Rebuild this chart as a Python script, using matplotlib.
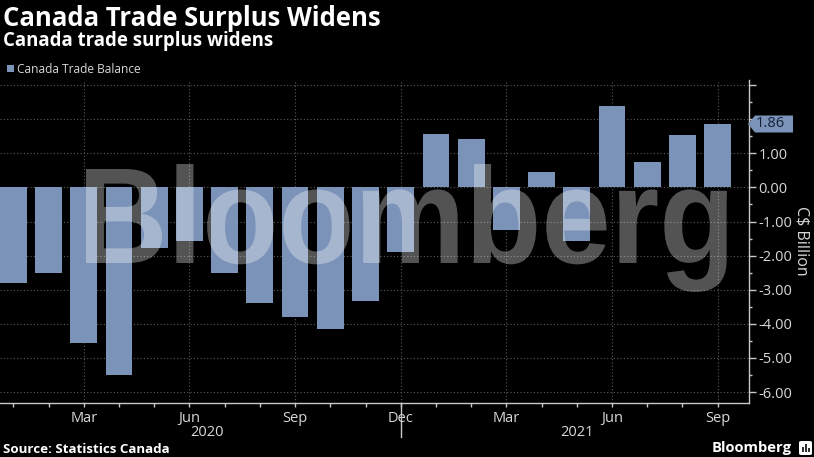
import matplotlib
matplotlib.use("Agg")
import matplotlib.pyplot as plt
import matplotlib.transforms as mtransforms
from matplotlib.patches import Polygon, Rectangle, FancyBboxPatch, PathPatch
from matplotlib.lines import Line2D
from matplotlib.textpath import TextPath
from matplotlib.font_manager import FontProperties
import numpy as np

# ---------------- data ----------------
months = ["Jan", "Feb", "Mar", "Apr", "May", "Jun", "Jul", "Aug", "Sep", "Oct", "Nov", "Dec",
          "Jan", "Feb", "Mar", "Apr", "May", "Jun", "Jul", "Aug", "Sep"]
years = [2020] * 12 + [2021] * 9
trade_balance = [-2.79, -2.50, -4.55, -5.50, -1.78, -1.58, -2.50, -3.39, -3.80, -4.15, -3.32, -1.89,
                 1.57, 1.42, -1.25, 0.45, -1.57, 2.38, 0.76, 1.53, 1.86]
y_ticks = [-6, -5, -4, -3, -2, -1, 0, 1, 2, 3]
last_value = 1.86

title = "Canada Trade Surplus Widens"
subtitle = "Canada trade surplus widens"
legend_label = "Canada Trade Balance"
source = "Source: Statistics Canada"
y_label = "C$ Billion"

# ---------------- style ----------------
plt.rcParams['axes.unicode_minus'] = False
BG = "black"
BAR = "#7b93b8"
TXT = "#d8d8d8"
GRID = "#5a5a5a"
W, H = 814, 457

fig = plt.figure(figsize=(W / 100, H / 100), dpi=100, facecolor=BG)
ax = fig.add_axes([0, 1 - 403 / H, 749 / W, (403 - 80) / H], facecolor=BG)

x = np.arange(len(trade_balance))
ax.bar(x, trade_balance, width=0.76, color=BAR, zorder=2)

ax.set_xlim(-0.38, 20.89)
ax.set_ylim(-6.32, 3.15)

for s in ["left", "top"]:
    ax.spines[s].set_visible(False)
for s in ["right", "bottom"]:
    ax.spines[s].set_color("#c8c8c8")
    ax.spines[s].set_linewidth(1.0)

# y axis on right (2.00 and 3.00 labels are hidden behind tag / absent in reference)
ax.yaxis.tick_right()
ax.set_yticks(y_ticks)
ax.set_yticklabels(["%.2f" % v if v < 2 else "" for v in y_ticks])
ax.set_yticks(np.arange(-6, 3.01, 0.5), minor=True)
ax.tick_params(axis="y", which="major", length=5, width=1, colors="#c8c8c8", pad=2,
               labelsize=10.5, labelcolor=TXT)
ax.tick_params(axis="y", which="minor", length=2.5, width=1, colors="#c8c8c8")
for lbl in ax.get_yticklabels():
    lbl.set_family("Open Sans")

# x axis
q_idx = [i for i, m in enumerate(months) if m in ("Mar", "Jun", "Sep", "Dec")]
ax.set_xticks(q_idx)
ax.set_xticklabels([months[i] for i in q_idx])
ax.set_xticks([i for i in x if i not in q_idx], minor=True)
ax.tick_params(axis="x", which="both", length=3, width=1, colors="#c8c8c8", pad=3,
               labelsize=10.5, labelcolor=TXT)
for lbl in ax.get_xticklabels():
    lbl.set_family("Open Sans")

# grid
for v in y_ticks:
    ax.axhline(v, color=GRID, lw=0.8, ls=(0, (1, 2)), zorder=1)
for i in q_idx:
    ax.axvline(i, color=GRID, lw=0.8, ls=(0, (1, 2)), zorder=1)

# year labels and separator
trans_x_fig = mtransforms.blended_transform_factory(ax.transData, fig.transFigure)
for yr in sorted(set(years)):
    idx = [i for i, y in enumerate(years) if y == yr]
    cx = (idx[0] + idx[-1]) / 2
    fig.text(cx, 1 - 436 / H, str(yr), transform=trans_x_fig, ha="center", va="baseline",
             color=TXT, fontsize=10.5, family="Open Sans")
sep_i = years.index(2021) - 1
ax.add_line(Line2D([sep_i, sep_i], [1 - 403 / H, 1 - 437 / H], transform=trans_x_fig,
                   color="#c8c8c8", lw=1, clip_on=False))

# y label
fig.text(802 / W, 1 - 241 / H, y_label, rotation=270, ha="center", va="center",
         color=TXT, fontsize=11.5, family="Open Sans")

# last value tag
tr = mtransforms.blended_transform_factory(ax.transAxes, ax.transData)
hh = 8.5 / 34.1
px = 1 / 749
tag = Polygon([(1 - 1 * px, last_value), (1 + 6 * px, last_value + hh), (1 + 44 * px, last_value + hh),
               (1 + 44 * px, last_value - hh), (1 + 6 * px, last_value - hh)],
              closed=True, transform=tr, facecolor=BAR, edgecolor="none", clip_on=False, zorder=5)
ax.add_patch(tag)
ax.text(1 + 7 * px, last_value, "%.2f" % last_value, transform=tr, ha="left", va="center",
        color="#13203a", fontsize=10.5, family="Open Sans", zorder=6, clip_on=False)

# ---------------- texts ----------------
renderer = fig.canvas.get_renderer()


def fit(t, target_w):
    w = t.get_window_extent(renderer).width
    t.set_fontsize(t.get_fontsize() * target_w / w)


t1 = fig.text(3 / W, 1 - 26 / H, title, ha="left", va="baseline", color="white",
              fontsize=20, fontweight="bold", family="Open Sans")
fit(t1, 377)
t2 = fig.text(3 / W, 1 - 46 / H, subtitle, ha="left", va="baseline", color="white",
              fontsize=15, fontweight="bold", family="Open Sans")
fit(t2, 270)

fig.add_artist(Rectangle((7 / W, 1 - 72 / H), 7 / W, 7 / H, transform=fig.transFigure,
                         facecolor=BAR, edgecolor="none"))
t3 = fig.text(17 / W, 1 - 73 / H, legend_label, ha="left", va="baseline", color=TXT,
              fontsize=9, family="Open Sans")
fit(t3, 125)

t4 = fig.text(3 / W, 1 - 453 / H, source, ha="left", va="baseline", color="white",
              fontsize=9, fontweight="bold", family="Open Sans")
fit(t4, 167)

t5 = fig.text(712 / W, 1 - 452 / H, "Bloomberg", ha="left", va="baseline", color="white",
              fontsize=11, fontweight="bold", family="Open Sans")
fit(t5, 80)

# small logo icon
fig.add_artist(FancyBboxPatch((799 / W, 1 - 455 / H), 13 / W, 14 / H,
                              boxstyle="round,pad=0,rounding_size=0.003",
                              transform=fig.transFigure, facecolor="white", edgecolor="none"))
for bx, bh in [(802, 5), (805, 8), (808, 4)]:
    fig.add_artist(Rectangle((bx / W, 1 - 452 / H), 2 / W, bh / H, transform=fig.transFigure,
                             facecolor="#333333", edgecolor="none"))

# watermark, fitted to the reference's box (x 86..727, cap top 169, baseline 263)
fp = FontProperties(family="Liberation Sans", weight="bold")
tp = TextPath((0, 0), "Bloomberg", size=100, prop=fp)
bb = tp.get_extents()
cap = TextPath((0, 0), "B", size=100, prop=fp).get_extents()
sx = (727 - 86) / bb.width
sy = (263 - 169) / cap.y1
wm_tr = (mtransforms.Affine2D().translate(-bb.x0, 0).scale(sx, sy)
         .translate(86, H - 263).scale(1 / W, 1 / H) + fig.transFigure)
fig.add_artist(PathPatch(tp, transform=wm_tr, facecolor="white", edgecolor="none",
                         alpha=0.33, zorder=10))

fig.savefig("out.png", dpi=100, facecolor=BG)
